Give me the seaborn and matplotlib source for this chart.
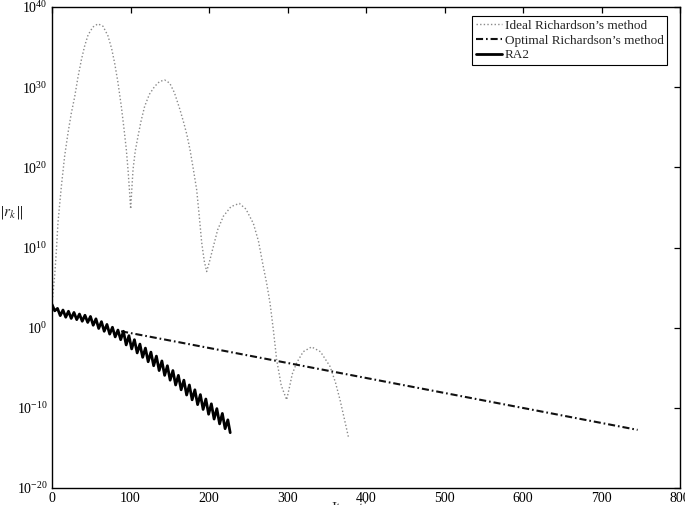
import numpy as np
import pandas as pd
import seaborn as sns
import matplotlib.pyplot as plt

# =============================================================================
# Data (log10 of the residual norm)
# =============================================================================

ideal_k = [0, 1.5, 3.4, 5.5, 7.6, 11.9, 16.1, 20.4, 24.5, 28.9, 33, 37.4,
           41.5, 45.9, 52, 58.6, 65, 71.3, 76, 79.8, 84, 88.3, 91.5, 94.7,
           97, 98.9, 100.2, 101.5, 103.2, 106, 109.6, 113.5, 118, 124,
           130.8, 137, 143.5, 150, 156, 163, 168, 172, 175.8, 180, 184.3,
           187.5, 190.7, 194, 197, 200.5, 205.5, 211, 218.3, 228, 238.6,
           247, 256.5, 263, 269.2, 273.5, 277.7, 282, 286.2, 292, 298.9,
           303, 306, 311.6, 320, 330.7, 342, 354, 361, 366.9, 372, 377.5]
ideal_log = [2.9, 4.5, 6.5, 9.5, 13.1, 17.6, 21.4, 24.3, 26.7, 28.8, 31.2,
             33.4, 35.1, 36.5, 37.5, 37.9, 37.6, 36.4, 34.8, 33.0, 30.6,
             27.6, 25.0, 22.2, 19.5, 16.8, 14.8, 17.0, 19.7, 22.0, 23.9,
             25.8, 27.6, 29.1, 30.1, 30.7, 30.9, 30.5, 29.3, 27.2, 25.5,
             24.0, 22.2, 19.8, 17.2, 14.0, 10.6, 8.3, 7.0, 8.2, 10.1, 12.2,
             13.9, 15.1, 15.5, 14.8, 13.0, 10.8, 7.6, 5.5, 3.1, -0.3, -4.0,
             -7.2, -9.0, -7.2, -5.8, -4.4, -3.0, -2.4, -3.0, -4.8, -6.8,
             -9.0, -11.2, -13.6]

optimal_k = [88, 163, 441, 746]
optimal_log = [-0.45, -1.84, -7.04, -12.75]

ra2_k = [0, 3.5, 7, 10.5, 14, 17.5, 21, 24.5, 28, 31.5, 35, 38.5, 42, 45.5,
         49, 52.5, 56, 59.5, 63, 66.5, 70, 73.5, 77, 80.5, 84, 87.5, 91,
         94.5, 98, 101.5, 105, 108.5, 112, 115.5, 119, 122.5, 126, 129.5,
         133, 136.5, 140, 143.5, 147, 150.5, 154, 157.5, 161, 164.5, 168,
         171.5, 175, 178.5, 182, 185.5, 189, 192.5, 196, 199.5, 203, 206.5,
         210, 213.5, 217, 220.5, 224, 227]
ra2_log = [2.9, 2.1, 2.4, 1.5, 2.2, 1.3, 2.05, 1.15, 1.9, 1.0, 1.7, 0.8,
           1.55, 0.65, 1.4, 0.3, 1.1, -0.1, 0.75, -0.45, 0.4, -0.8, 0.05,
           -1.15, -0.3, -1.5, -0.45, -2.15, -1.0, -2.65, -1.5, -3.15, -2.05,
           -3.7, -2.55, -4.25, -3.05, -4.75, -3.55, -5.35, -4.15, -5.95,
           -4.75, -6.55, -5.35, -7.15, -5.95, -7.75, -6.55, -8.4, -7.15,
           -9.0, -7.75, -9.6, -8.35, -10.2, -8.9, -10.8, -9.5, -11.4,
           -10.1, -12.0, -10.7, -12.6, -11.5, -13.1]

labels = ["Ideal Richardson\u2019s method",
          "Optimal Richardson\u2019s method",
          "RA2"]

# =============================================================================
# Plot
# =============================================================================

sns.set_theme(style="white")
plt.rcParams['font.family'] = ['Liberation Serif', 'DejaVu Serif']
plt.rcParams['mathtext.fontset'] = 'stix'

df_ideal = pd.DataFrame({"k": ideal_k, "r": 10.0 ** np.array(ideal_log)})
df_opt = pd.DataFrame({"k": optimal_k, "r": 10.0 ** np.array(optimal_log)})
df_ra2 = pd.DataFrame({"k": ra2_k, "r": 10.0 ** np.array(ra2_log)})

f = plt.figure(figsize=(6.85, 5.05), dpi=100)
ax = f.add_axes([52 / 685, 17 / 505, 628 / 685, 481 / 505])

sns.lineplot(x="k", y="r", data=df_ideal, ax=ax, color="#8a8a8a",
             linewidth=1.0, linestyle=(0, (1, 1.6)), label=labels[0])
sns.lineplot(x="k", y="r", data=df_opt, ax=ax, color="#111111",
             linewidth=1.5, linestyle=(0, (3.4, 1.4, 0.8, 1.4)),
             label=labels[1])
sns.lineplot(x="k", y="r", data=df_ra2, ax=ax, color="black",
             linewidth=2.0, label=labels[2])

ax.set_yscale("log")
ax.set_xlim(0, 800)
ax.set_ylim(1e-20, 1e40)
ax.set_xticks(range(0, 801, 100))
ax.set_yticks([10.0 ** p for p in range(-20, 41, 10)])
ax.minorticks_off()
ax.tick_params(direction="in", top=True, right=True, length=4.5,
               width=0.9, labelsize=10, colors="black")
ax.tick_params(axis="x", pad=3)
ax.tick_params(axis="y", pad=3)
for s in ax.spines.values():
    s.set_color("black")
    s.set_linewidth(1.0)

ax.set_xlabel("")
ax.set_ylabel("")
f.text(23 / 685, 1 - 213 / 505, r"$\|r_k\|$", ha="right", va="center",
       fontsize=11)
f.text(360 / 685, 1 - 502.5 / 505, "Iterations", ha="center", va="top",
       fontsize=11)

leg = ax.legend(loc="upper right", bbox_to_anchor=(0.979, 0.981),
                borderaxespad=0, fontsize=9.5, frameon=True, fancybox=False,
                framealpha=1, edgecolor="black", borderpad=0.25,
                labelspacing=0.2, handletextpad=0.2, handlelength=2.0)
leg.get_frame().set_linewidth(0.8)

plt.savefig("out.png", dpi=100)
plt.close()
